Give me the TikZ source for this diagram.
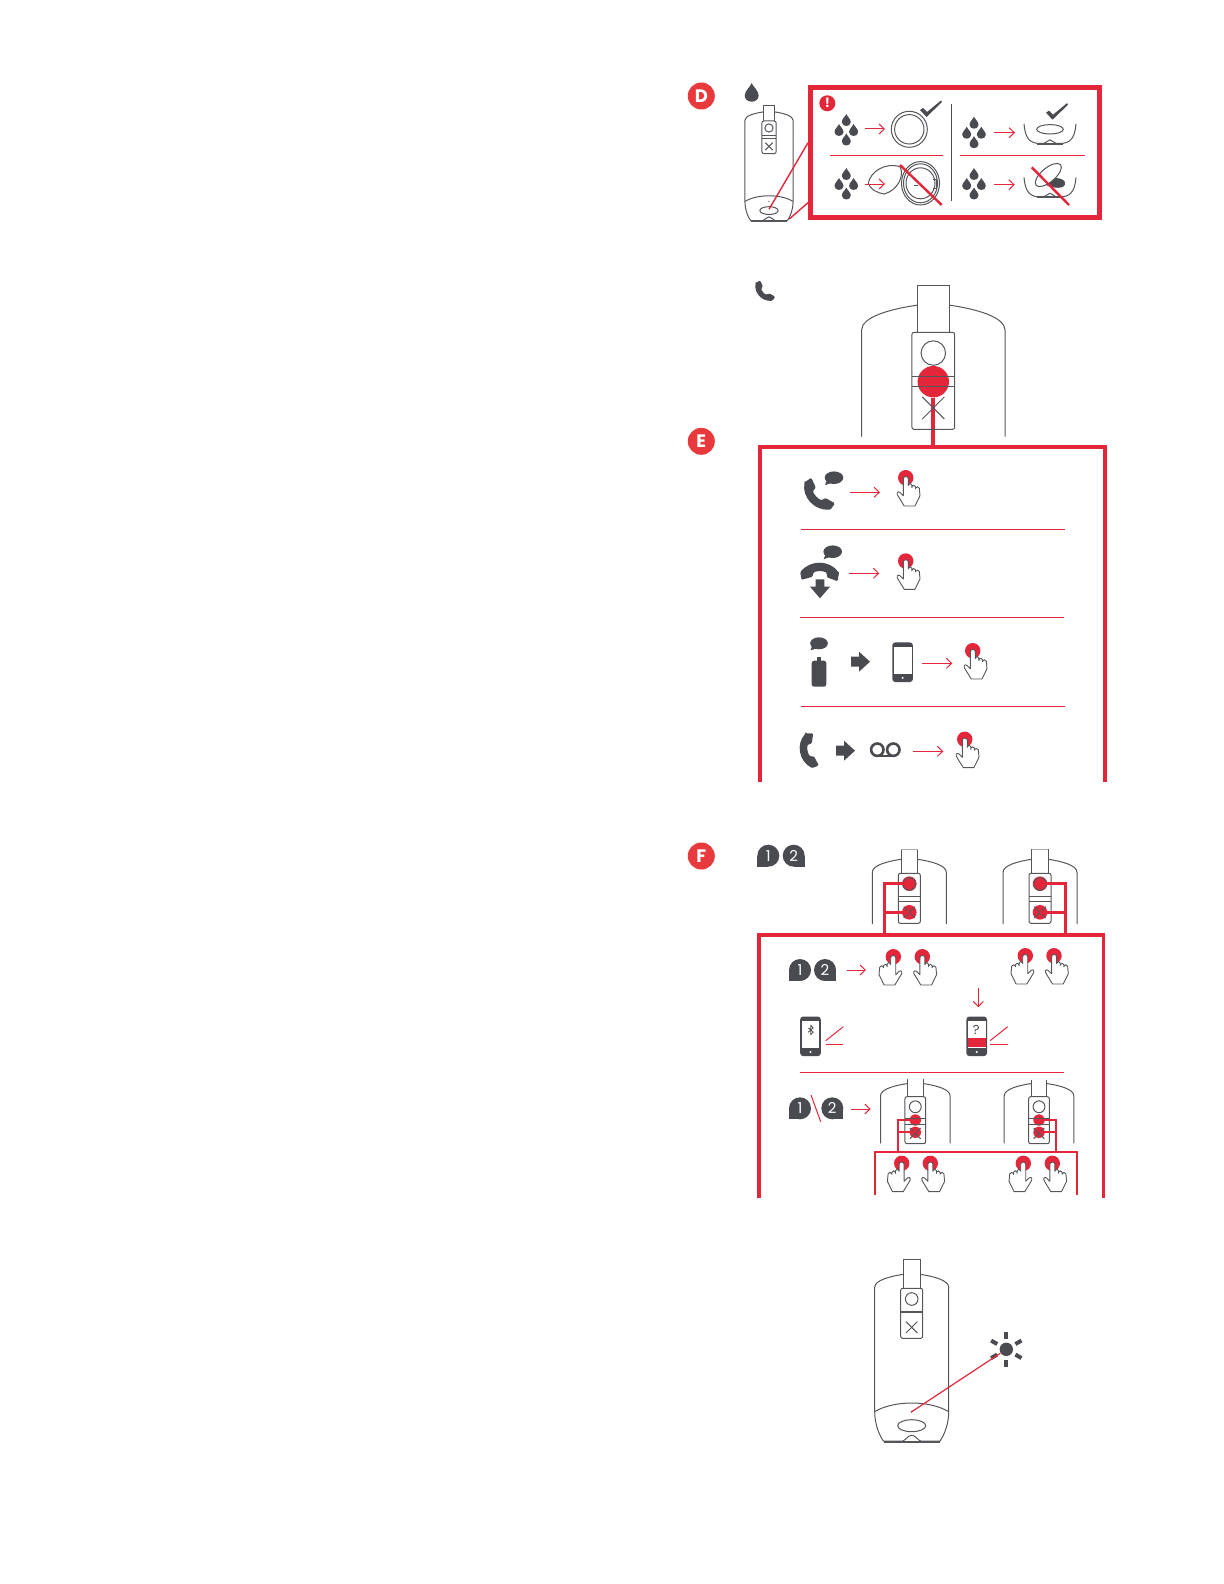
\documentclass[tikz,border=0pt]{standalone}
\usepackage{fontspec}
\setsansfont{Poppins}
\usetikzlibrary{arrows.meta}
\definecolor{brandred}{HTML}{E4263A}
\definecolor{badgered}{HTML}{E83A3C}
\definecolor{inkdark}{HTML}{4A4B50}
\definecolor{inkline}{HTML}{55565A}
\tikzset{
   badge/.style={circle,fill=badgered,text=white,inner sep=0pt,minimum size=13.5pt,font=\sffamily\bfseries\fontsize{9}{9}\selectfont},
   redspot/.style={circle,fill=brandred,inner sep=0pt},
   devline/.style={draw=inkline,line width=.5pt},
   thinred/.style={draw=brandred,line width=.5pt},
   redarrow/.style={thinred,-{Straight Barb[length=2.6pt,width=5pt]}},
   crossout/.style={draw=brandred,line width=1.2pt},
   numtext/.style={text=white,inner sep=0pt,font=\sffamily\fontsize{7.5}{7.5}\selectfont},
   drop/.pic={\fill[inkdark] (0,-6) .. controls (1,-3.5) and (4.5,-1) .. (4.5,2) .. controls (4.5,4.5) and (2.3,6) .. (0,6) .. controls (-2.3,6) and (-4.5,4.5) .. (-4.5,2) .. controls (-4.5,-1) and (-1,-3.5) .. (0,-6) -- cycle;},
   fourdrops/.pic={
      \pic at (0,-10) {drop};
      \pic at (-7.3,0) {drop};
      \pic at (7.3,0) {drop};
      \pic at (0,9.5) {drop};
   },
   checkmark/.pic={\fill[inkdark] (0,0) -- (3,-2) -- (7,2) -- (21,-9.5) -- (22,-8) -- (6.5,7) -- cycle;},
   cup/.pic={
      \draw[devline] (-26,-19.3) .. controls (-25,-8) and (-22,-1) .. (-13,0) -- (-6,0) .. controls (-3,-.5) and (-2,-3.5) .. (0,-3.5) .. controls (2,-3.5) and (3,-.5) .. (6,0) -- (13,0) .. controls (22,-1) and (25,-8) .. (26,-19.3);
      \draw[draw=inkline,line width=.9pt] (-13,.6) -- (13,.6);
   },
   presshand/.pic={
      \fill[brandred] (0,0) circle [radius=7.7];
      \draw[draw=inkline,fill=white,line width=.45pt,line join=round] (-2.4,1) .. controls (-2.4,-2) and (2.6,-2) .. (2.6,1) -- (2.6,8) -- (2.6,7.5) .. controls (3,5.2) and (6,5.2) .. (6.2,7.5) -- (6.2,10) -- (6.2,9) .. controls (6.6,7) and (9.4,7) .. (9.8,9) -- (9.8,11) -- (9.8,10.5) .. controls (10.2,8.6) and (13.2,8.6) .. (13.6,10.5) -- (14.3,18) -- (9.2,28.3) -- (-1.5,28.3) -- (-7.5,18.5) .. controls (-9.5,16) and (-8.6,13) .. (-6,14.5) -- (-2.4,18) -- cycle;
   },
   handset/.pic={\fill[inkdark,rounded corners=.6pt] (-9.3,-7.5) -- (-5,-10.5) -- (-2,-4) -- (-4,-2) .. controls (-3,1) and (0,3.5) .. (2,4) -- (4,2.5) -- (10.3,6) -- (7.5,10) .. controls (-3,11) and (-11,2) .. (-9.3,-7.5) -- cycle;},
   speech/.pic={
      \fill[inkdark] (0,0) ellipse [x radius=9.3,y radius=6.3];
      \fill[inkdark] (-7,2) -- (-9,7.5) -- (-2,5) -- cycle;
   },
   blockarrow/.pic={\fill[inkdark] (0,-5) -- (8,-5) -- (8,-10) -- (19,0) -- (8,10) -- (8,5) -- (0,5) -- cycle;},
   handphone/.pic={
      \fill[inkdark,rounded corners=1.5pt] (-10.3,-19.8) rectangle (10.3,19.8);
      \fill[white] (-8.9,-15.6) rectangle (8.9,11.6);
      \fill[white] (0,15.7) circle [radius=1.1];
   },
   numleft/.pic={
      \fill[inkdark] (0,0) circle [radius=11];
      \fill[inkdark] (-11,0) rectangle (0,11);
      \node[numtext] (num) at (0,0) {#1};
   },
   numright/.pic={
      \fill[inkdark] (0,0) circle [radius=11];
      \fill[inkdark] (11,0) rectangle (0,11);
      \node[numtext] (num) at (0,0) {#1};
   },
}
\newcommand{\devicetop}[7]{
   \begin{scope}[shift={(#1,#2)},scale=#3]
      \draw[devline] (-8.3,-14) .. controls (-22,-12) and (-37,-8) .. (-37,-1) -- (-37,#5);
      \draw[devline] (8.3,-14) .. controls (22,-12) and (37,-8) .. (37,-1) -- (37,#5);
      \draw[devline] (-8.3,0) -- (-8.3,-#4);
      \draw[devline] (8.3,-#4) -- (8.3,0);
      \draw[devline,draw=#7] (-8.3,-#4) -- (8.3,-#4);
      \draw[devline,rounded corners=1pt] (-11,0) rectangle (11,50);
      \draw[devline] (-11,23) -- (11,23);
      \draw[devline] (-11,23+#6) -- (11,23+#6);
      \draw[devline] (0,10.7) circle [radius=6.3];
      \draw[devline] (-5.7,33.3) -- (5.7,44.7);
      \draw[devline] (-5.7,44.7) -- (5.7,33.3);
   \end{scope}
}
\newcommand{\devicelow}[3]{
   \begin{scope}[shift={(#1,#2)},scale=#3]
      \draw[devline] (-37,123.4) .. controls (-37,135) and (-33,146) .. (-28.3,152.7) -- (-9,152.7) .. controls (-6,152) and (-4,147) .. (0,147) .. controls (4,147) and (6,152) .. (9,152.7) -- (28.3,152.7) .. controls (33,146) and (37,135) .. (37,123.4);
      \draw[draw=inkline,line width=.8pt] (-28,153.4) -- (28,153.4);
      \draw[devline] (-37,123.4) .. controls (-18,111.8) and (18,111.8) .. (37,123.4);
      \draw[devline] (0,137.4) ellipse [x radius=14,y radius=6];
      \fill[inkdark] (0,123.4) circle [radius=1];
   \end{scope}
}
\begin{document}
\begin{tikzpicture}[x=.5pt,y=-.5pt]
   \useasboundingbox (0,0) rectangle (1224,1584);

   \node[badge] (badgeD) at (701.3,96) {D};
   \node[badge] (badgeE) at (701.3,441.3) {E};
   \node[badge] (badgeF) at (701.3,856) {F};

   \pic[scale=1.55] (topdrop) at (751.7,92.4) {drop};
   \devicetop{769}{121}{.652}{24.5}{123.4}{3.5}{inkline}
   \devicelow{769}{121}{.652}
   \draw[draw=brandred,line width=2.5pt] (810.5,87.5) rectangle (1099.5,217.5);
   \coordinate (foldA) at (769,209.3);
   \coordinate (foldB) at (808,142.7);
   \coordinate (foldC) at (789.3,219);
   \coordinate (foldD) at (808,202.7);
   \draw[draw=brandred,line width=.7pt] (foldA) -- (foldB);
   \draw[draw=brandred,line width=.7pt] (foldC) -- (foldD);
   \node[circle,fill=brandred,text=white,inner sep=0pt,minimum size=8pt,font=\sffamily\bfseries\fontsize{6.5}{6.5}\selectfont] (warn) at (827.3,103.3) {!};
   \pic (dropsA) at (846.3,130) {fourdrops};
   \pic (dropsB) at (974,132.7) {fourdrops};
   \pic (dropsC) at (846.3,184) {fourdrops};
   \pic (dropsD) at (974,184) {fourdrops};
   \draw[thinred] (830,155.3) -- (942.7,155.3);
   \draw[thinred] (960,155.3) -- (1084.7,155.3);
   \draw[draw=inkdark,line width=.5pt] (951.3,104) -- (951.3,200.7);
   \draw[devline] (909.3,129.3) circle [radius=18];
   \draw[devline] (909.3,129.3) circle [radius=14.7];
   \pic (checkA) at (920,110) {checkmark};
   \pic (cupA) at (1050,143.3) {cup};
   \draw[devline] (1050,129.3) ellipse [x radius=13.3,y radius=4.7];
   \pic (checkB) at (1046,112.7) {checkmark};
   \draw[devline] (920.5,183.3) ellipse [x radius=19,y radius=21.7];
   \draw[devline] (920.5,183.3) ellipse [x radius=17,y radius=19.5];
   \draw[devline] (920.5,183.3) ellipse [x radius=14.5,y radius=15.5];
   \draw[devline] (933,179) -- (936,179) -- (936,188) -- (933,188);
   \draw[devline] (913.5,185.7) -- (917.5,185.7);
   \draw[devline,fill=white] (868.3,183.3) .. controls (870,172) and (885,162) .. (900,166.7) .. controls (905,176) and (897,191) .. (884,194) .. controls (877,193) and (870,189) .. (868.3,183.3) -- cycle;
   \draw[crossout] (900,165) -- (941.7,205);
   \pic (cupB) at (1050,196.7) {cup};
   \fill[inkdark] (1055,182.7) ellipse [x radius=10,y radius=4.7];
   \draw[devline,fill=white,rotate around={40:(1048.3,175)}] (1048.3,175) ellipse [x radius=16,y radius=7];
   \fill[inkdark] (1058,184) ellipse [x radius=7,y radius=3.8];
   \draw[crossout] (1031.7,167.3) -- (1069,205);

   \pic (callmark) at (765,290.7) {handset};
   \node[redspot,minimum size=15.7pt] (ebtn) at (933.3,381.7) {};
   \coordinate (etop) at (933.3,447);
   \draw[draw=brandred,line width=2pt] (ebtn.south) -- (etop);
   \devicetop{933.3}{332.3}{1.94}{24.2}{53.8}{4.8}{inkline}
   \coordinate (eleft) at (760.3,781.7);
   \coordinate (eright) at (1105,781.7);
   \draw[draw=brandred,line width=2pt] (eleft) |- (eright |- etop) -- (eright);
   \draw[thinred] (801,529) -- (1065,529);
   \draw[thinred] (800,617.3) -- (1064,617.3);
   \draw[thinred] (801,706.3) -- (1064.7,706.3);
   \pic[scale=1.55] (callA) at (819,494) {handset};
   \pic (talkA) at (834,477.7) {speech};
   \pic (talkB) at (832.7,551.7) {speech};
   \pic[scale=1.6,rotate=-135] (callB) at (820,575) {handset};
   \fill[inkdark] (815.7,579.3) -- (824.3,579.3) -- (824.3,586.7) -- (830,586.7) -- (820,598.3) -- (810,586.7) -- (815.7,586.7) -- cycle;
   \pic[scale=.95] (talkC) at (819,643.3) {speech};
   \fill[inkdark,rounded corners=1.2pt] (811.7,660.7) rectangle (826.3,686.7);
   \fill[inkdark] (816.7,656.7) rectangle (821.3,661.5);
   \pic (blockA) at (851,661.7) {blockarrow};
   \pic (phoneA) at (902.6,662.2) {handphone};
   \pic[scale=1.45,rotate=-33] (callC) at (811,750) {handset};
   \pic (blockB) at (836,750.7) {blockarrow};
   \draw[draw=inkdark,line width=1.3pt] (877.3,749.7) circle [radius=6.2];
   \draw[draw=inkdark,line width=1.3pt] (893.3,749.7) circle [radius=6.2];
   \draw[draw=inkdark,line width=1.3pt] (877.3,755.9) -- (893.3,755.9);
   \foreach \n/\hx/\hy in {a/905.7/477.7,b/905.7/561,c/972.7/650.7,d/964.7/739.3}
      \pic (hand\n) at (\hx,\hy) {presshand};

   \pic (oneA) at (768.3,855.7) {numleft=1};
   \pic (twoA) at (793.7,855.7) {numright=2};
   \node[redspot,minimum size=7.3pt] (fbtnA) at (909.3,883.7) {};
   \node[redspot,minimum size=7.3pt] (fbtnB) at (909.3,912.3) {};
   \node[redspot,minimum size=7.3pt] (fbtnC) at (1040,883.7) {};
   \node[redspot,minimum size=7.3pt] (fbtnD) at (1040,912.3) {};
   \devicetop{909.3}{873.3}{1}{24}{50.7}{4.7}{inkline!50}
   \devicetop{1040}{873.3}{1}{24}{50.7}{4.7}{inkline!50}
   \coordinate (ftopA) at (884,935);
   \coordinate (ftopB) at (1065.7,935);
   \draw[draw=brandred,line width=1.5pt] (fbtnA.center) -| (ftopA);
   \draw[draw=brandred,line width=1.5pt] (fbtnB.center) -| (ftopA);
   \draw[draw=brandred,line width=1.5pt] (fbtnC.center) -| (ftopB);
   \draw[draw=brandred,line width=1.5pt] (fbtnD.center) -| (ftopB);
   \coordinate (fleft) at (759,1198.3);
   \coordinate (fright) at (1103.3,1198.3);
   \draw[draw=brandred,line width=1.75pt] (fleft) |- (fright |- ftopA) -- (fright);
   \pic (oneB) at (800,970) {numleft=1};
   \pic (twoB) at (825,970) {numright=2};
   \foreach \n/\hx/\hy/\hs in {e/893.3/956.7/-1,f/922.3/956.7/1,g/1025.3/955.7/-1,h/1054/955.7/1}
      \pic[xscale=\hs] (hand\n) at (\hx,\hy) {presshand};
   \pic (phoneB) at (810.5,1036.3) {handphone};
   \pic (phoneC) at (976.7,1036.3) {handphone};
   \draw[draw=inkdark,line width=.4pt] (808.2,1027.8) -- (813.2,1032.2) -- (810.7,1034.5) -- (810.7,1025.5) -- (813.2,1027.8) -- (808.2,1032.2);
   \node[text=inkdark,inner sep=0pt,font=\sffamily\fontsize{6.5}{6.5}\selectfont] (askmark) at (976.3,1030) {?};
   \fill[brandred] (967.7,1038.3) rectangle (985.7,1046.7);
   \draw[thinred] (825.7,1040.7) -- (843.3,1026.7);
   \draw[thinred] (825.7,1044.3) -- (843.3,1044.3);
   \draw[thinred] (990,1040.7) -- (1007.7,1026.7);
   \draw[thinred] (990,1044.3) -- (1007.7,1044.3);
   \draw[thinred] (800,1072.7) -- (1064,1072.7);
   \pic (oneC) at (800,1108.3) {numleft=1};
   \pic (twoC) at (832.3,1108.3) {numright=2};
   \draw[thinred] (811,1095) -- (820.7,1121.7);
   \node[redspot,minimum size=5.7pt] (gbtnA) at (915.3,1120) {};
   \node[redspot,minimum size=5.7pt] (gbtnB) at (915.3,1132.3) {};
   \node[redspot,minimum size=5.7pt] (gbtnC) at (1039,1120) {};
   \node[redspot,minimum size=5.7pt] (gbtnD) at (1039,1132.3) {};
   \devicetop{915.3}{1096.7}{.94}{18.8}{49.6}{6.4}{white}
   \devicetop{1039}{1096.7}{.94}{18.8}{49.6}{6.4}{white}
   \coordinate (gtopA) at (898.3,1152);
   \coordinate (gtopB) at (1055.7,1152);
   \draw[draw=brandred,line width=.85pt] (gbtnA.center) -| (gtopA);
   \draw[draw=brandred,line width=.85pt] (gbtnB.center) -| (gtopA);
   \draw[draw=brandred,line width=.85pt] (gbtnC.center) -| (gtopB);
   \draw[draw=brandred,line width=.85pt] (gbtnD.center) -| (gtopB);
   \coordinate (gleft) at (875,1195);
   \coordinate (gright) at (1077,1195);
   \draw[draw=brandred,line width=1pt] (gleft) |- (gright |- gtopA) -- (gright);
   \foreach \n/\hx/\hy/\hs in {i/901.7/1163.3/-1,j/930.3/1163.3/1,k/1023.3/1163.3/-1,l/1052.3/1163.3/1}
      \pic[xscale=\hs] (hand\n) at (\hx,\hy) {presshand};

   \devicetop{911.7}{1288.3}{1}{29}{123.4}{1.3}{inkline}
   \devicelow{911.7}{1288.3}{1}
   \node[circle,fill=inkdark,inner sep=0pt,minimum size=6.7pt] (sun) at (1006.3,1349.3) {};
   \foreach \a in {30,90,150,210,270,330}
      \draw[draw=inkdark,line width=2pt] (sun.center) ++(\a:10.5) -- ++(\a:7);
   \coordinate (sensor) at (911.7,1411.7);
   \draw[draw=brandred,line width=.6pt] (sensor) -- (sun);

   \foreach \n/\ax/\ay/\bx/\by in {a/865/129/885/129,b/994/132.7/1015/132.7,c/865/184/885/184,d/994/184.7/1014.7/184.7,e/850/492.3/880/492.3,f/849/573.3/879.3/573.3,g/922/663.3/952.3/663.3,h/913/751.3/943.3/751.3,i/846.7/970/866/970,j/978.3/988.3/978.3/1007.3,k/851/1109/870.7/1109}{
      \coordinate (start\n) at (\ax,\ay);
      \coordinate (end\n) at (\bx,\by);
      \draw[redarrow] (start\n) -- (end\n);
   }
\end{tikzpicture}
\end{document}
